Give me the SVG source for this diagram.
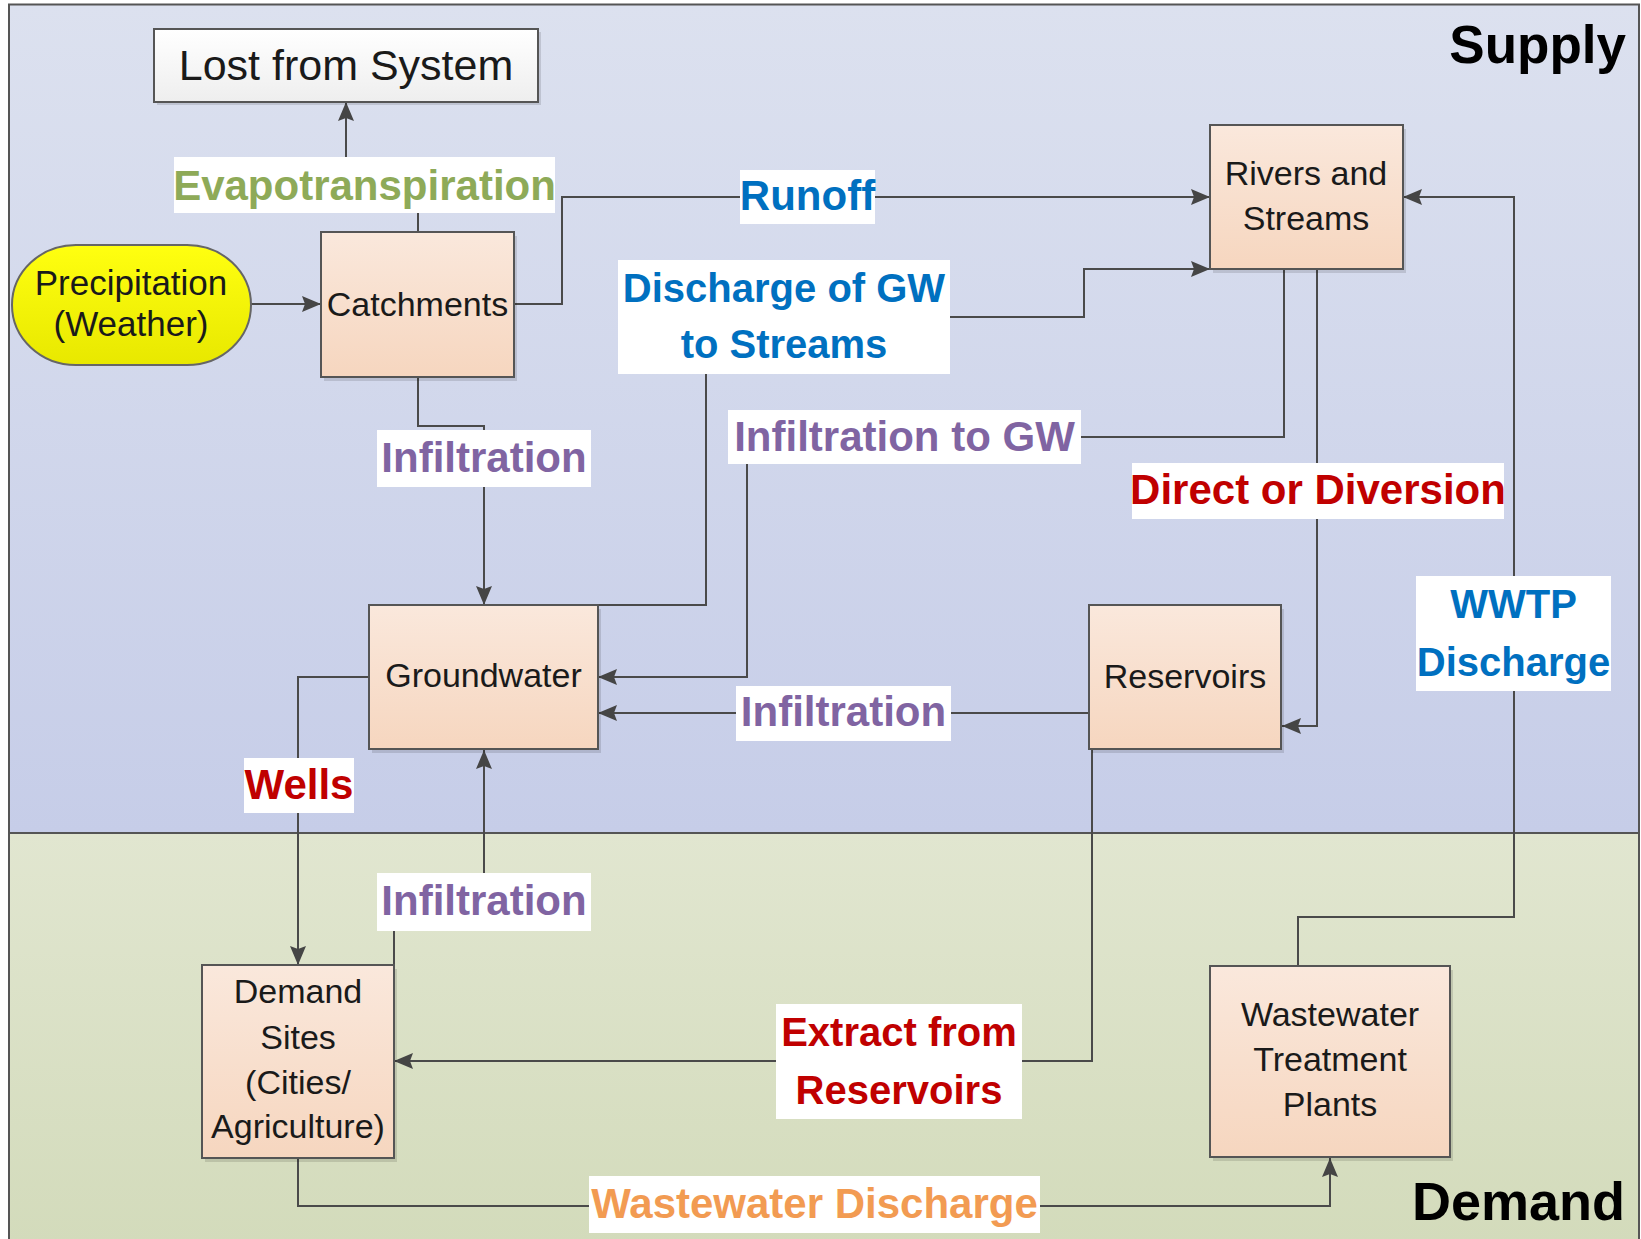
<svg xmlns="http://www.w3.org/2000/svg" width="1641" height="1239" viewBox="0 0 1641 1239">
<defs>
<linearGradient id="gSupply" x1="0" y1="0" x2="0" y2="1"><stop offset="0" stop-color="#dce1ef"/><stop offset="1" stop-color="#c6cde8"/></linearGradient>
<linearGradient id="gDemand" x1="0" y1="0" x2="0" y2="1"><stop offset="0" stop-color="#e1e6d0"/><stop offset="1" stop-color="#d3dbbb"/></linearGradient>
<linearGradient id="gNode" x1="0" y1="0" x2="0" y2="1"><stop offset="0" stop-color="#fae8dc"/><stop offset="1" stop-color="#f6d6bf"/></linearGradient>
<linearGradient id="gLost" x1="0" y1="0" x2="0" y2="1"><stop offset="0" stop-color="#ffffff"/><stop offset="1" stop-color="#eeeeee"/></linearGradient>
<linearGradient id="gPrec" x1="0" y1="0" x2="0" y2="1"><stop offset="0" stop-color="#ffff10"/><stop offset="1" stop-color="#e8e800"/></linearGradient>
<marker id="arr" markerUnits="userSpaceOnUse" markerWidth="20" markerHeight="18" refX="19" refY="9" orient="auto">
<path d="M0,1 L19,9 L0,17 L3,9 z" fill="#454545"/>
</marker>
</defs>
<style>
.frame{stroke:#555;stroke-width:2}
.node{fill:url(#gNode);stroke:#555;stroke-width:2}
.shadow{fill:#000;opacity:0.12}
.nt{font-family:"Liberation Sans",Arial,sans-serif;font-size:34px;fill:#1a1a1a;text-anchor:middle}
.big{font-size:43px}
.prec{font-size:35px}
.conn{fill:none;stroke:#4a4a4a;stroke-width:2}
.lb{fill:#fff}
.lt{font-family:"Liberation Sans",Arial,sans-serif;font-size:42px;font-weight:bold;text-anchor:middle}
.sm{font-size:40px}
.blue{fill:#0070c0}.red{fill:#c00000}.purple{fill:#8064a2}.green{fill:#8eaa58}.orange{fill:#f29b52}
.title{font-family:"Liberation Sans",Arial,sans-serif;font-weight:bold;fill:#000;text-anchor:end}
</style>
<g id="background">
<rect x="9" y="4.5" width="1630" height="828.5" fill="url(#gSupply)"/>
<rect x="9" y="833" width="1630" height="410" fill="url(#gDemand)"/>
<path class="frame" fill="none" d="M9,1245 V4.5 H1639 V1245"/>
<line class="frame" x1="9" y1="833" x2="1639" y2="833"/>
<text class="title" x="1626" y="63" font-size="53">Supply</text>
<text class="title" x="1625" y="1220" font-size="54">Demand</text>
</g>
<g id="connectors">
<path class="conn" marker-end="url(#arr)" d="M251,304 H321"/>
<path class="conn" marker-end="url(#arr)" d="M418,232 V185 H346 V102"/>
<path class="conn" marker-end="url(#arr)" d="M514,304 H562 V197 H1210"/>
<path class="conn" marker-end="url(#arr)" d="M418,377 V426 H484 V605"/>
<path class="conn" marker-end="url(#arr)" d="M598,605 H706 V317 H1084 V269 H1210"/>
<path class="conn" marker-end="url(#arr)" d="M1284,269 V437 H747 V677 H598"/>
<path class="conn" marker-end="url(#arr)" d="M1317,269 V726 H1282"/>
<path class="conn" marker-end="url(#arr)" d="M1089,713 H598"/>
<path class="conn" marker-end="url(#arr)" d="M369,677 H298 V965"/>
<path class="conn" marker-end="url(#arr)" d="M394,965 V900 H484 V750"/>
<path class="conn" marker-end="url(#arr)" d="M1092,749 V1061 H394"/>
<path class="conn" marker-end="url(#arr)" d="M298,1158 V1206 H1330 V1158"/>
<path class="conn" marker-end="url(#arr)" d="M1298,966 V917 H1514 V197 H1403"/>
<g id="labels">
<rect class="lb" x="174" y="157" width="381" height="56"/>
<text class="lt green" x="364.5" y="200">Evapotranspiration</text>
<rect class="lb" x="740" y="170" width="135" height="54"/>
<text class="lt blue" x="807.5" y="210">Runoff</text>
<rect class="lb" x="618" y="260" width="332" height="114"/>
<text class="lt sm blue" x="784" y="302">Discharge of GW</text>
<text class="lt sm blue" x="784" y="358">to Streams</text>
<rect class="lb" x="377" y="430" width="214" height="57"/>
<text class="lt purple" x="484" y="472">Infiltration</text>
<rect class="lb" x="728" y="410" width="353" height="54"/>
<text class="lt purple" x="904.5" y="451">Infiltration to GW</text>
<rect class="lb" x="1132" y="463" width="372" height="56"/>
<text class="lt red" x="1318" y="504">Direct or Diversion</text>
<rect class="lb" x="736" y="686" width="215" height="55"/>
<text class="lt purple" x="843.5" y="726">Infiltration</text>
<rect class="lb" x="244" y="758" width="110" height="55"/>
<text class="lt red" x="299" y="799">Wells</text>
<rect class="lb" x="1416" y="576" width="195" height="115"/>
<text class="lt sm blue" x="1513.5" y="618">WWTP</text>
<text class="lt sm blue" x="1513.5" y="676">Discharge</text>
<rect class="lb" x="377" y="873" width="214" height="58"/>
<text class="lt purple" x="484" y="915">Infiltration</text>
<rect class="lb" x="776" y="1004" width="246" height="115"/>
<text class="lt sm red" x="899" y="1046">Extract from</text>
<text class="lt sm red" x="899" y="1104">Reservoirs</text>
<rect class="lb" x="589" y="1176" width="451" height="57"/>
<text class="lt orange" x="814.5" y="1218">Wastewater Discharge</text>
</g>
</g>
<g id="lost">
<rect class="shadow" x="157" y="32" width="384" height="73"/>
<rect x="154" y="29" width="384" height="73" fill="url(#gLost)" stroke="#555" stroke-width="2"/>
<text class="nt big" x="346" y="80">Lost from System</text>
</g>
<g id="precipitation">
<rect x="12" y="245" width="239" height="120" rx="64" ry="60" fill="url(#gPrec)" stroke="#666" stroke-width="2"/>
<text class="nt prec" x="131" y="295">Precipitation</text>
<text class="nt prec" x="131" y="336">(Weather)</text>
</g>
<g id="catchments">
<rect class="shadow" x="324" y="236" width="193" height="145"/>
<rect class="node" x="321" y="232" width="193" height="145"/>
<text class="nt" x="417.5" y="316">Catchments</text>
</g>
<g id="rivers">
<rect class="shadow" x="1213" y="129" width="193" height="144"/>
<rect class="node" x="1210" y="125" width="193" height="144"/>
<text class="nt" x="1306" y="185">Rivers and</text>
<text class="nt" x="1306" y="230">Streams</text>
</g>
<g id="groundwater">
<rect class="shadow" x="372" y="609" width="229" height="144"/>
<rect class="node" x="369" y="605" width="229" height="144"/>
<text class="nt" x="483.5" y="687">Groundwater</text>
</g>
<g id="reservoirs">
<rect class="shadow" x="1092" y="609" width="192" height="144"/>
<rect class="node" x="1089" y="605" width="192" height="144"/>
<text class="nt" x="1185" y="688">Reservoirs</text>
</g>
<g id="demand-sites">
<rect class="shadow" x="205" y="969" width="192" height="193"/>
<rect class="node" x="202" y="965" width="192" height="193"/>
<text class="nt" x="298" y="1003">Demand</text>
<text class="nt" x="298" y="1049">Sites</text>
<text class="nt" x="298" y="1094">(Cities/</text>
<text class="nt" x="298" y="1138">Agriculture)</text>
</g>
<g id="wwtp">
<rect class="shadow" x="1213" y="970" width="240" height="191"/>
<rect class="node" x="1210" y="966" width="240" height="191"/>
<text class="nt" x="1330" y="1026">Wastewater</text>
<text class="nt" x="1330" y="1071">Treatment</text>
<text class="nt" x="1330" y="1116">Plants</text>
</g>
</svg>
